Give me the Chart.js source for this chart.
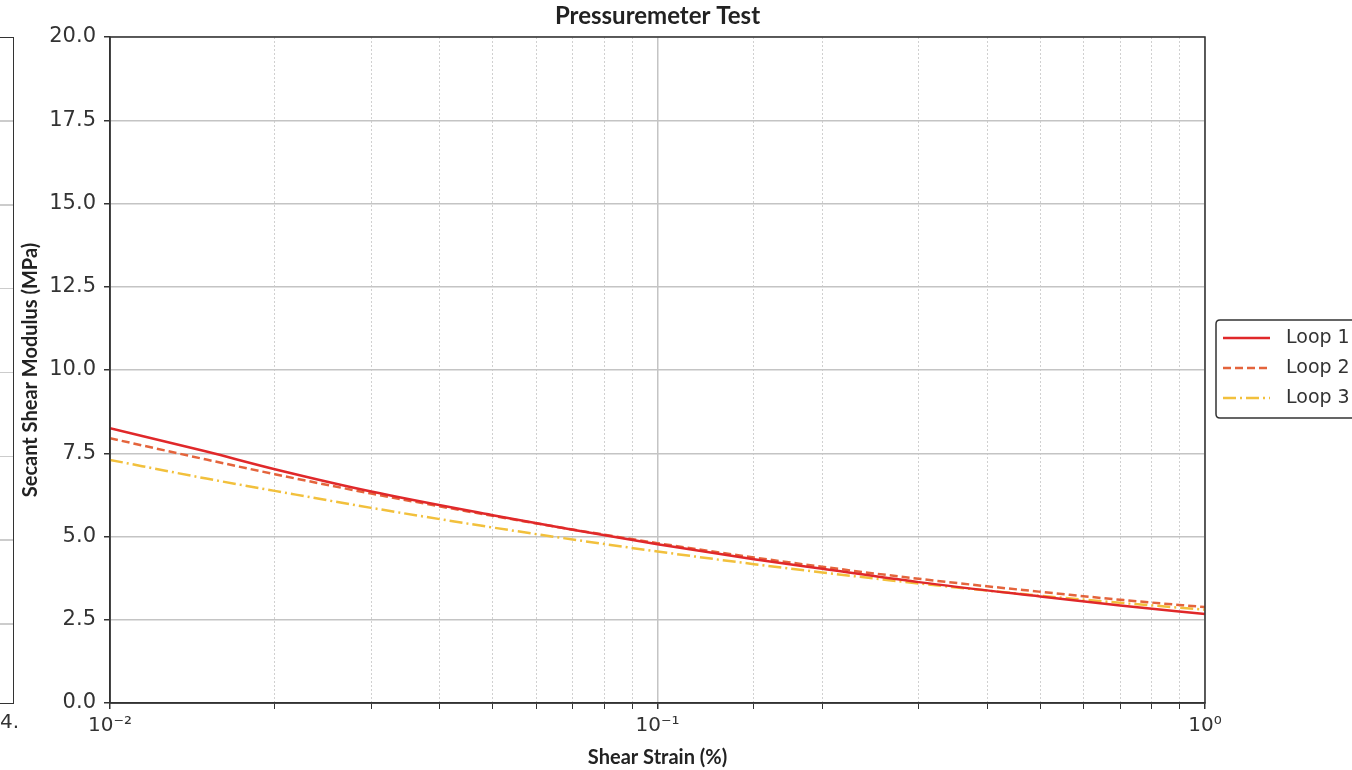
<!DOCTYPE html>
<html>
<head>
<meta charset="utf-8">
<script src="https://cdn.jsdelivr.net/npm/chart.js@4"></script>
<style>
  html, body { margin: 0; padding: 0; background: #fff; }
  #wrap { position: relative; width: 1352px; height: 770px; overflow: hidden; }
  #prev {
    position: absolute; left: -20px; top: 37px; width: 33px; height: 665px;
    border: 1.5px solid #333; border-left: none;
    background: repeating-linear-gradient(to bottom, transparent 0, transparent 82.3px, #ccc 82.3px, #ccc 83.8px);
  }
  #prevLbl { position: absolute; left: 0; top: 709px; font: 20px "DejaVu Sans"; color: #333; }
</style>
</head>
<body>
<div id="wrap">
  <div id="prev"></div>
  <div id="prevLbl">4.</div>
  <canvas id="chart" width="1352" height="770"></canvas>
</div>
<script>
document.addEventListener("DOMContentLoaded", function () {
  const strain = [0.01, 0.015, 0.02, 0.03, 0.05, 0.07, 0.1, 0.15, 0.2, 0.3, 0.5, 0.7, 1.0];
  const loop1 = [8.25, 7.55, 7.02, 6.35, 5.64, 5.2, 4.77, 4.32, 4.03, 3.63, 3.2, 2.93, 2.67];
  const loop2 = [7.95, 7.31, 6.87, 6.29, 5.62, 5.21, 4.8, 4.37, 4.09, 3.73, 3.34, 3.1, 2.88];
  const loop3 = [7.3, 6.74, 6.37, 5.86, 5.27, 4.91, 4.55, 4.17, 3.92, 3.59, 3.22, 3.01, 2.8];
  const seriesNames = ["Loop 1", "Loop 2", "Loop 3"];
  const xTickLabels = { "0.01": "10\u207B\u00B2", "0.1": "10\u207B\u00B9", "1": "10\u2070" };
  const chartTitle = "Pressuremeter Test";

  const colors = ["#e0282a", "#e4643c", "#f2c03c"];
  const dashes = [[], [8, 4], [13, 4, 2, 4]];

  function toPoints(ys) {
    return strain.map((x, i) => ({ x: x, y: ys[i] }));
  }

  const datasets = [loop1, loop2, loop3].map((ys, i) => ({
    label: seriesNames[i],
    data: toPoints(ys),
    borderColor: colors[i],
    borderDash: dashes[i],
    borderWidth: 2.5,
    pointRadius: 0,
    fill: false,
    cubicInterpolationMode: "monotone",
  }));

  function isMajor(v) {
    const l = Math.log10(v);
    return Math.abs(l - Math.round(l)) < 1e-6;
  }

  // frame around the plot, title over the plot centre, boxed legend
  const frame = {
    id: "frame",
    afterDraw(chart) {
      const { ctx, chartArea: a } = chart;
      ctx.save();
      ctx.strokeStyle = "#333";
      ctx.lineWidth = 1.5;
      ctx.strokeRect(a.left, a.top, a.right - a.left, a.bottom - a.top);

      ctx.fillStyle = "#222";
      ctx.font = "bold 24px Lato";
      ctx.textAlign = "center";
      ctx.textBaseline = "middle";
      ctx.fillText(chartTitle, (a.left + a.right) / 2, 16);

      const lx = a.right + 11, ly = 320, lh = 98;
      ctx.fillStyle = "#fff";
      ctx.fillRect(lx, ly, 200, lh);
      ctx.lineWidth = 1.5;
      ctx.strokeStyle = "#333";
      ctx.beginPath();
      ctx.moveTo(lx + 200, ly);
      ctx.lineTo(lx + 4, ly);
      ctx.quadraticCurveTo(lx, ly, lx, ly + 4);
      ctx.lineTo(lx, ly + lh - 4);
      ctx.quadraticCurveTo(lx, ly + lh, lx + 4, ly + lh);
      ctx.lineTo(lx + 200, ly + lh);
      ctx.stroke();
      ctx.font = "19px 'DejaVu Sans'";
      ctx.textAlign = "left";
      chart.data.datasets.forEach((ds, i) => {
        const y = ly + 18 + i * 30;
        ctx.strokeStyle = ds.borderColor;
        ctx.lineWidth = 2.5;
        ctx.setLineDash(ds.borderDash);
        ctx.beginPath();
        ctx.moveTo(lx + 7, y);
        ctx.lineTo(lx + 54, y);
        ctx.stroke();
        ctx.setLineDash([]);
        ctx.fillStyle = "#333";
        ctx.fillText(ds.label, lx + 70, y);
      });
      ctx.restore();
    },
  };

  new Chart(document.getElementById("chart"), {
    type: "line",
    data: { datasets: datasets },
    plugins: [frame],
    options: {
      responsive: false,
      animation: false,
      layout: { padding: { left: 18, right: 147, top: 37, bottom: 0 } },
      plugins: {
        legend: { display: false },
        tooltip: { enabled: false },
        title: { display: false },
      },
      scales: {
        x: {
          type: "logarithmic",
          min: 0.01,
          max: 1,
          afterFit: (s) => { s.height = 67; },
          title: {
            display: true,
            text: "Shear Strain (%)",
            color: "#222",
            font: { family: "Lato", size: 20, weight: "bold" },
            padding: { top: 0, bottom: 0 },
          },
          ticks: {
            autoSkip: false,
            maxRotation: 0,
            color: "#333",
            font: { family: "DejaVu Sans", size: 20 },
            padding: 5,
            callback: function (v) {
              return xTickLabels[String(+v.toPrecision(3))] || "";
            },
          },
          grid: {
            color: (c) => (c.tick && isMajor(c.tick.value) ? "#c4c4c4" : "#d0d0d0"),
            lineWidth: (c) => (c.tick && isMajor(c.tick.value) ? 1.5 : 1),
            tickColor: "#333",
            tickLength: 6,
          },
          border: {
            color: "#333",
            width: 1.5,
            dash: (c) => (c.tick && !isMajor(c.tick.value) ? [2, 2] : []),
          },
        },
        y: {
          min: 0,
          max: 20,
          afterFit: (s) => { s.width = 92; },
          title: {
            display: true,
            text: "Secant Shear Modulus (MPa)",
            color: "#222",
            font: { family: "Lato", size: 20, weight: "bold" },
            padding: { top: 1, bottom: 0 },
          },
          ticks: {
            stepSize: 2.5,
            color: "#333",
            font: { family: "DejaVu Sans", size: 21 },
            padding: 8,
            callback: (v) => v.toFixed(1),
          },
          grid: { color: "#c4c4c4", lineWidth: 1.5, tickColor: "#333", tickLength: 6 },
          border: { color: "#333", width: 1.5 },
        },
      },
    },
  });
});
</script>
</body>
</html>
